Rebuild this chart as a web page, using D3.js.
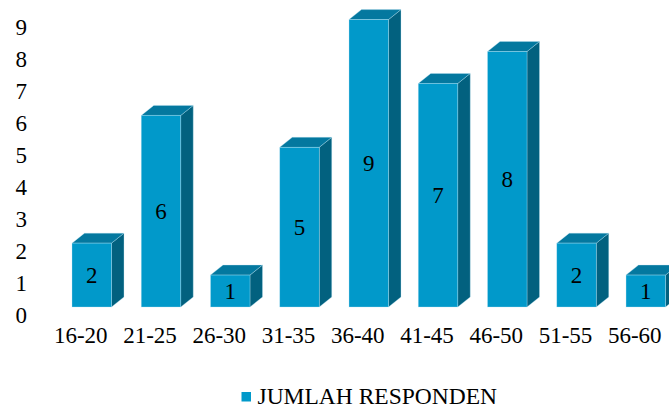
<!DOCTYPE html>
<html>
<head>
<meta charset="utf-8">
<script src="https://cdn.jsdelivr.net/npm/d3@7"></script>
<style>
  html, body { margin: 0; padding: 0; background: #fff; }
  svg { display: block; }
  svg text { font-family: "Liberation Serif", "Times New Roman", "DejaVu Serif", serif !important; fill: #000; }
</style>
</head>
<body>
<svg id="chart" width="669" height="408"></svg>
<script>
// Respondents per age group
const categories = ["16-20", "21-25", "26-30", "31-35", "36-40", "41-45", "46-50", "51-55", "56-60"];
const values = [2, 6, 1, 5, 9, 7, 8, 2, 1];
const yTicks = [0, 1, 2, 3, 4, 5, 6, 7, 8, 9];
const seriesName = "JUMLAH RESPONDEN";

const svg = d3.select("#chart");
const serif = "'Liberation Serif', 'Times New Roman', serif";

// 3D extrusion offset
const depthX = 12.5, depthY = 10;

const colors = { front: "#0199ca", top: "#04789f", side: "#02617f" };

const x = d3.scaleBand()
  .domain(categories)
  .range([72, 665.5])
  .paddingInner(0.43)
  .paddingOuter(0);

const y = d3.scaleLinear()
  .domain([0, 9])
  .range([307, 19.6]);

// Value axis labels (no line, no ticks)
const yAxis = d3.axisLeft(y).tickValues(yTicks).tickSize(0).tickPadding(0).tickFormat(d3.format("d"));
const gy = svg.append("g").attr("transform", "translate(27,8)").call(yAxis)
  .attr("font-family", serif).attr("font-size", 23);
gy.select(".domain").remove();
gy.selectAll("text").attr("fill", "#000");

// Category labels
const xAxis = d3.axisBottom(x).tickSize(0).tickPadding(0);
const gx = svg.append("g").attr("transform", "translate(-11,327)").call(xAxis)
  .attr("font-family", serif).attr("font-size", 23);
gx.select(".domain").remove();
gx.selectAll("text").attr("fill", "#000");

// Bars
const data = categories.map((c, i) => ({ c, v: values[i] }));
const bars = svg.append("g").selectAll("g.bar").data(data).join("g").attr("class", "bar");

const edge = "rgba(190,230,245,0.55)";

bars.append("path")
  .attr("d", d => {
    const x1 = x(d.c) + x.bandwidth(), y0 = y(0), yt = y(d.v);
    return `M${x1},${y0}L${x1 + depthX},${y0 - depthY}L${x1 + depthX},${yt - depthY}L${x1},${yt}Z`;
  })
  .attr("fill", colors.side).attr("stroke", edge).attr("stroke-width", 0.6);

bars.append("path")
  .attr("d", d => {
    const x0 = x(d.c), x1 = x0 + x.bandwidth(), yt = y(d.v);
    return `M${x0},${yt}L${x0 + depthX},${yt - depthY}L${x1 + depthX},${yt - depthY}L${x1},${yt}Z`;
  })
  .attr("fill", colors.top).attr("stroke", edge).attr("stroke-width", 0.6);

bars.append("rect")
  .attr("x", d => x(d.c))
  .attr("y", d => y(d.v))
  .attr("width", x.bandwidth())
  .attr("height", d => y(0) - y(d.v))
  .attr("fill", colors.front).attr("stroke", edge).attr("stroke-width", 0.6);

// Value labels centred on the front face
bars.append("text")
  .attr("x", d => x(d.c) + x.bandwidth() / 2)
  .attr("y", d => (y(d.v) + y(0)) / 2)
  .attr("dy", "0.35em")
  .attr("text-anchor", "middle")
  .attr("font-family", serif)
  .attr("font-size", 23)
  .text(d => d.v);

// Legend
const lg = svg.append("g").attr("transform", "translate(241.5,392)");
lg.append("rect").attr("width", 9.5).attr("height", 9.5).attr("fill", colors.front);
lg.append("text").attr("x", 16).attr("y", 11.5)
  .attr("font-family", serif).attr("font-size", 23.5)
  .text(seriesName);
</script>
</body>
</html>
